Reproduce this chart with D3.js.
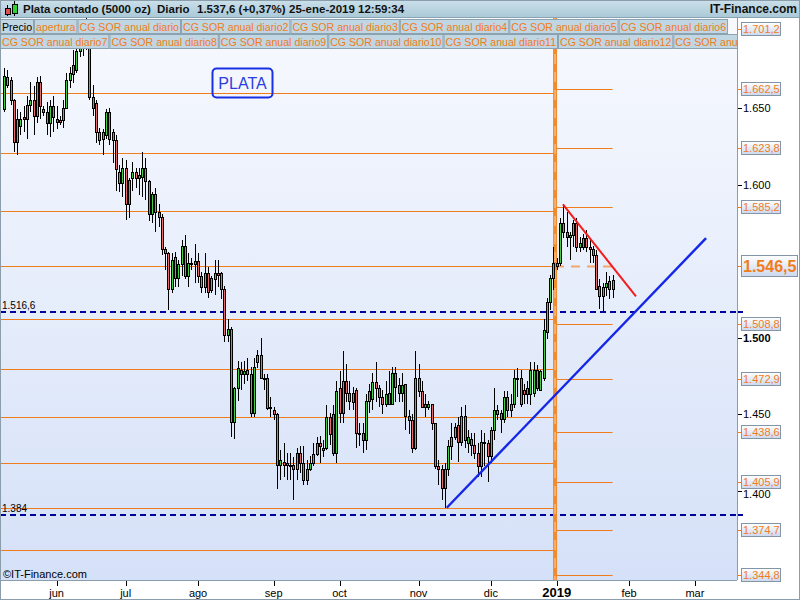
<!DOCTYPE html>
<html>
<head>
<meta charset="utf-8">
<script src="https://cdn.jsdelivr.net/npm/d3@7"></script>
<style>
  body { margin: 0; background: #fff; }
  svg { display: block; font-family: "Liberation Sans", Arial, sans-serif; }
</style>
</head>
<body>
<svg id="chart" width="800" height="600"></svg>
<script>
'use strict';

// daily candles, silver spot (5000 oz), from mid-May 2018 to 25-ene-2019
var opens = [1649,1665,1668,1655,1628,1638,1644,1643,1652,1655,
  1645,1667,1649,1647,1640,1651,1643,1642,1642,1650,
  1668,1672,1675,1687,1696,1691,1701,1657,1653,1634,
  1630,1632,1647,1634,1629,1608,1601,1611,1587,1604,
  1608,1606,1605,1611,1602,1581,1594,1582,1579,1558,
  1555,1532,1553,1539,1548,1560,1540,1549,1548,1550,
  1540,1533,1542,1531,1538,1542,1542,1532,1502,1506,
  1445,1467,1479,1476,1479,1476,1451,1484,1489,1474,
  1474,1455,1453,1450,1417,1419,1418,1417,1417,1414,
  1425,1418,1407,1414,1418,1424,1431,1428,1428,1448,
  1450,1425,1467,1451,1472,1464,1458,1466,1437,1438,
  1433,1459,1460,1471,1467,1461,1457,1457,1457,1477,
  1469,1464,1470,1449,1446,1428,1474,1465,1457,1455,
  1457,1444,1416,1414,1402,1414,1429,1435,1443,1432,
  1449,1431,1434,1430,1425,1416,1432,1431,1423,1440,
  1450,1451,1447,1461,1453,1457,1474,1474,1466,1467,
  1463,1464,1479,1466,1474,1504,1523,1539,1547,1549,
  1575,1569,1566,1567,1575,1559,1559,1565,1559,1558,
  1554,1534,1527,1533,1537,1532];
var highs = [1676,1675,1670,1656,1649,1647,1651,1658,1667,1664,
  1670,1671,1651,1654,1655,1658,1651,1645,1655,1673,
  1677,1688,1691,1698,1702,1717,1707,1665,1655,1637,
  1636,1649,1650,1636,1632,1613,1617,1616,1604,1615,
  1611,1611,1621,1617,1603,1595,1598,1587,1581,1559,
  1556,1555,1556,1551,1564,1567,1555,1552,1561,1555,
  1543,1555,1546,1540,1551,1551,1543,1534,1512,1507,
  1468,1485,1484,1485,1487,1481,1487,1492,1500,1476,
  1476,1461,1455,1451,1427,1431,1425,1425,1422,1428,
  1429,1429,1420,1423,1431,1435,1436,1433,1456,1451,
  1456,1472,1478,1491,1483,1472,1468,1467,1444,1444,
  1463,1470,1477,1484,1469,1466,1472,1478,1481,1481,
  1474,1477,1470,1453,1450,1491,1483,1472,1463,1459,
  1457,1444,1420,1417,1418,1433,1444,1444,1448,1455,
  1456,1440,1438,1438,1431,1440,1438,1433,1442,1467,
  1456,1453,1465,1465,1463,1479,1480,1479,1470,1472,
  1484,1484,1482,1479,1512,1526,1541,1559,1552,1578,
  1587,1582,1569,1577,1578,1566,1568,1570,1564,1560,
  1557,1538,1536,1543,1540,1541];
var lows = [1647,1663,1652,1621,1619,1632,1634,1630,1647,1632,
  1640,1643,1645,1632,1631,1634,1636,1639,1637,1649,
  1663,1666,1673,1683,1684,1688,1655,1645,1627,1626,
  1619,1630,1626,1614,1596,1595,1592,1577,1578,1596,
  1598,1593,1592,1590,1576,1575,1569,1572,1554,1544,
  1518,1529,1533,1533,1540,1538,1533,1544,1536,1536,
  1529,1529,1526,1529,1528,1533,1525,1497,1497,1435,
  1434,1459,1466,1470,1472,1448,1448,1480,1474,1466,
  1453,1448,1446,1401,1407,1409,1407,1407,1394,1407,
  1412,1404,1404,1413,1416,1423,1418,1422,1427,1430,
  1423,1418,1444,1444,1458,1453,1453,1428,1429,1425,
  1427,1451,1453,1458,1455,1450,1455,1456,1456,1458,
  1458,1458,1440,1437,1425,1427,1461,1454,1448,1453,
  1440,1414,1404,1394,1389,1410,1420,1433,1419,1429,
  1428,1425,1423,1421,1409,1409,1416,1406,1418,1433,
  1446,1438,1444,1448,1448,1454,1461,1455,1457,1457,
  1456,1461,1465,1465,1472,1499,1518,1531,1544,1547,
  1565,1559,1551,1559,1556,1556,1557,1556,1549,1549,
  1531,1519,1517,1527,1525,1526];
var closes = [1671,1670,1655,1628,1643,1643,1643,1652,1655,1645,
  1667,1651,1647,1640,1651,1644,1641,1641,1650,1668,
  1673,1678,1687,1693,1689,1704,1657,1650,1634,1629,
  1634,1647,1630,1629,1610,1601,1611,1587,1603,1608,
  1604,1604,1611,1602,1581,1594,1582,1579,1558,1555,
  1532,1551,1539,1548,1560,1540,1549,1548,1550,1540,
  1533,1542,1530,1539,1542,1541,1532,1502,1506,1445,
  1467,1480,1476,1478,1476,1451,1481,1489,1474,1473,
  1454,1454,1450,1417,1420,1417,1417,1416,1414,1425,
  1418,1407,1414,1418,1424,1431,1429,1427,1448,1437,
  1425,1465,1451,1472,1464,1459,1464,1438,1438,1433,
  1459,1465,1471,1467,1461,1457,1463,1464,1477,1468,
  1464,1469,1449,1446,1428,1474,1465,1455,1455,1457,
  1444,1416,1414,1402,1414,1429,1435,1442,1432,1449,
  1433,1435,1430,1425,1416,1432,1431,1423,1440,1453,
  1453,1447,1461,1453,1457,1474,1473,1457,1463,1463,
  1479,1479,1467,1478,1505,1523,1539,1549,1549,1575,
  1569,1566,1567,1575,1559,1562,1565,1559,1558,1554,
  1532,1527,1533,1536,1532,1537.6];

// month ticks (bar index of first session of each month)
var monthLabels = ['jun', 'jul', 'ago', 'sep', 'oct', 'nov', 'dic', '2019', 'feb', 'mar'];
var monthIndex = [16, 37, 59, 82, 102, 126, 148, 168, 190, 210];

// annual support / resistance levels
var levels2018 = [1698.0, 1659.9, 1620.3, 1582.5, 1546.8, 1512.2, 1479.4, 1448.0, 1418.0, 1388.6, 1361.4];
var levels2019 = [1701.2, 1662.5, 1623.8, 1585.2, 1546.5, 1508.8, 1472.9, 1438.6, 1405.9, 1374.7, 1344.8];
var openLevel = 1546.5;
var yearStart = 167.5;

var dashedLevels = [1516.6, 1384.0];
var dashedLabels = ['1.516,6', '1.384'];
var priceTicks = [1650, 1600, 1500, 1450, 1400];

// trend lines [bar index, price]
var blueTrend = [[134.6, 1389], [213.4, 1565]];
var redTrend = [[169.9, 1587], [192.1, 1527]];

var legendRow1 = ['Precio', 'apertura', 'CG SOR anual diario', 'CG SOR anual diario2', 'CG SOR anual diario3',
  'CG SOR anual diario4', 'CG SOR anual diario5', 'CG SOR anual diario6'];
var legendRow2 = ['CG SOR anual diario7', 'CG SOR anual diario8', 'CG SOR anual diario9', 'CG SOR anual diario10',
  'CG SOR anual diario11', 'CG SOR anual diario12', 'CG SOR anual diario13'];

var es = d3.formatLocale({decimal: ',', thousands: '.', grouping: [3], currency: ['', '']});
var fmtLevel = es.format(',.1f');
var fmtTick = es.format(',d');

var svg = d3.select('#chart');
var plot = {left: 0, top: 18, right: 737, bottom: 580};
var orange = '#f07c1c';

var x = d3.scaleLinear().domain([-1.2, 222.8]).range([plot.left, plot.right]);
var y = d3.scaleLinear().domain([1400, 1650]).range([490.9, 107.9]);

var defs = svg.append('defs');
var bg = defs.append('linearGradient').attr('id', 'bg').attr('x1', 0).attr('y1', 0).attr('x2', 0).attr('y2', 1);
bg.append('stop').attr('offset', '0%').attr('stop-color', '#f7f9fe');
bg.append('stop').attr('offset', '100%').attr('stop-color', '#d5e1f8');
var head = defs.append('linearGradient').attr('id', 'head').attr('x1', 0).attr('y1', 0).attr('x2', 0).attr('y2', 1);
head.append('stop').attr('offset', '0%').attr('stop-color', '#cbe0ea');
head.append('stop').attr('offset', '100%').attr('stop-color', '#a9c8d7');
var lab = defs.append('linearGradient').attr('id', 'lab').attr('x1', 0).attr('y1', 0).attr('x2', 0).attr('y2', 1);
lab.append('stop').attr('offset', '0%').attr('stop-color', '#ffffff');
lab.append('stop').attr('offset', '100%').attr('stop-color', '#cbd8ee');
defs.append('clipPath').attr('id', 'clip').append('rect')
  .attr('x', plot.left).attr('y', plot.top)
  .attr('width', plot.right - plot.left).attr('height', plot.bottom - plot.top);
defs.append('clipPath').attr('id', 'legclip').append('rect')
  .attr('x', 0).attr('y', 0).attr('width', plot.right).attr('height', 60);

svg.append('rect').attr('width', 800).attr('height', 600).attr('fill', '#fff');
svg.append('rect')
  .attr('x', plot.left).attr('y', plot.top)
  .attr('width', plot.right - plot.left).attr('height', plot.bottom - plot.top)
  .attr('fill', 'url(#bg)');

var g = svg.append('g').attr('clip-path', 'url(#clip)');

// 2018 levels (left of the year line)
g.selectAll('line.lv18').data(levels2018).enter().append('line')
  .attr('x1', plot.left).attr('x2', x(yearStart))
  .attr('y1', function (d) { return Math.round(y(d)) + 0.5; })
  .attr('y2', function (d) { return Math.round(y(d)) + 0.5; })
  .attr('stroke', orange).attr('stroke-width', 1);

// 2019 levels
var lastIndex = closes.length - 1;
g.selectAll('line.lv19').data(levels2019.filter(function (d) { return d !== openLevel; })).enter().append('line')
  .attr('x1', x(yearStart)).attr('x2', x(lastIndex))
  .attr('y1', function (d) { return Math.round(y(d)) + 0.5; })
  .attr('y2', function (d) { return Math.round(y(d)) + 0.5; })
  .attr('stroke', orange).attr('stroke-width', 1);
g.append('line')
  .attr('x1', x(yearStart)).attr('x2', x(lastIndex + 1))
  .attr('y1', y(openLevel)).attr('y2', y(openLevel))
  .attr('stroke', '#f4a56a').attr('stroke-width', 2).attr('stroke-dasharray', '9,7');

// navy dashed lines
g.selectAll('line.dash').data(dashedLevels).enter().append('line')
  .attr('x1', plot.left).attr('x2', plot.right)
  .attr('y1', function (d) { return Math.round(y(d)); })
  .attr('y2', function (d) { return Math.round(y(d)); })
  .attr('stroke', '#00009a').attr('stroke-width', 2).attr('stroke-dasharray', '6,4');

g.selectAll('text.dlab').data(dashedLevels).enter().append('text')
  .attr('x', 2).attr('y', function (d) { return y(d) - 3; })
  .attr('font-size', 10).attr('fill', '#000')
  .text(function (d, i) { return dashedLabels[i]; });

// year separator
g.append('line')
  .attr('x1', x(yearStart)).attr('x2', x(yearStart))
  .attr('y1', plot.top).attr('y2', plot.bottom)
  .attr('stroke', '#f28a2e').attr('stroke-width', 4);
g.append('line')
  .attr('x1', x(yearStart)).attr('x2', x(yearStart))
  .attr('y1', plot.top).attr('y2', plot.bottom)
  .attr('stroke', '#f8c59a').attr('stroke-width', 1.2).attr('stroke-dasharray', '10,8');

// candles
var cg = g.append('g').attr('shape-rendering', 'crispEdges');
var idx = d3.range(closes.length);
var candles = cg.selectAll('g.c').data(idx).enter().append('g');
candles.append('rect')
  .attr('x', function (i) { return Math.round(x(i)); })
  .attr('width', 1)
  .attr('y', function (i) { return Math.round(y(highs[i])); })
  .attr('height', function (i) { return Math.max(1, Math.round(y(lows[i])) - Math.round(y(highs[i]))); })
  .attr('fill', '#000');
candles.append('rect')
  .attr('x', function (i) { return Math.round(x(i)) - 1; })
  .attr('width', 3)
  .attr('y', function (i) { return Math.round(y(Math.max(opens[i], closes[i]))); })
  .attr('height', function (i) {
    return Math.max(2, Math.round(y(Math.min(opens[i], closes[i]))) - Math.round(y(Math.max(opens[i], closes[i]))) + 1);
  })
  .attr('fill', '#000');
candles.append('rect')
  .attr('x', function (i) { return Math.round(x(i)); })
  .attr('width', 1)
  .attr('y', function (i) { return Math.round(y(Math.max(opens[i], closes[i]))) + 1; })
  .attr('height', function (i) {
    return Math.max(0, Math.round(y(Math.min(opens[i], closes[i]))) - Math.round(y(Math.max(opens[i], closes[i]))) - 1);
  })
  .attr('fill', function (i) { return closes[i] >= opens[i] ? '#3fcf3f' : '#e86a6a'; });

// trend lines
var tl = d3.line().x(function (d) { return x(d[0]); }).y(function (d) { return y(d[1]); });
g.append('path').attr('d', tl(blueTrend)).attr('fill', 'none').attr('stroke', '#1426e8').attr('stroke-width', 2.4);
g.append('path').attr('d', tl(redTrend)).attr('fill', 'none').attr('stroke', '#f41c1c').attr('stroke-width', 2);

// PLATA note
g.append('rect').attr('x', 212.5).attr('y', 68.5).attr('width', 60).attr('height', 29).attr('rx', 4)
  .attr('fill', 'none').attr('stroke', '#1a30e4').attr('stroke-width', 2);
g.append('text').attr('x', 242.5).attr('y', 89).attr('text-anchor', 'middle')
  .attr('font-size', 16).attr('fill', '#2a3ee0').text('PLATA');

g.append('text').attr('x', 3).attr('y', 578).attr('font-size', 11).attr('fill', '#000').text('\u00a9IT-Finance.com');

// frame of plot
svg.append('line').attr('x1', plot.right + 0.5).attr('x2', plot.right + 0.5).attr('y1', plot.top).attr('y2', plot.bottom)
  .attr('stroke', '#8b9cab');
svg.append('line').attr('x1', 0).attr('x2', plot.right).attr('y1', plot.bottom + 0.5).attr('y2', plot.bottom + 0.5)
  .attr('stroke', '#8b9cab');

// bottom axis
var xa = svg.append('g');
xa.selectAll('line').data(monthIndex).enter().append('line')
  .attr('x1', function (d) { return Math.round(x(d)) + 0.5; })
  .attr('x2', function (d) { return Math.round(x(d)) + 0.5; })
  .attr('y1', plot.bottom + 1).attr('y2', plot.bottom + 6)
  .attr('stroke', '#000');
xa.selectAll('text').data(monthIndex).enter().append('text')
  .attr('x', function (d) { return x(d); })
  .attr('y', 597)
  .attr('text-anchor', 'middle')
  .attr('font-size', function (d, i) { return monthLabels[i] === '2019' ? 13 : 11; })
  .attr('font-weight', function (d, i) { return monthLabels[i] === '2019' ? 'bold' : 'normal'; })
  .attr('fill', '#000')
  .text(function (d, i) { return monthLabels[i]; });

// right axis
var ya = svg.append('g');
ya.selectAll('line.t').data(priceTicks).enter().append('line')
  .attr('x1', plot.right + 1).attr('x2', plot.right + 5)
  .attr('y1', function (d) { return Math.round(y(d)) + 0.5; })
  .attr('y2', function (d) { return Math.round(y(d)) + 0.5; })
  .attr('stroke', '#000');
ya.selectAll('text.t').data(priceTicks).enter().append('text')
  .attr('x', 743).attr('y', function (d) { return y(d) + (d === 1400 ? 7 : 4); })
  .attr('font-size', 11)
  .attr('font-weight', function (d) { return d === 1500 ? 'bold' : 'normal'; })
  .attr('fill', '#000')
  .text(function (d) { return fmtTick(d); });

ya.selectAll('line.n').data(dashedLevels).enter().append('line')
  .attr('x1', plot.right + 1).attr('x2', plot.right + 6)
  .attr('y1', function (d) { return Math.round(y(d)); })
  .attr('y2', function (d) { return Math.round(y(d)); })
  .attr('stroke', '#00009a').attr('stroke-width', 2);

var small = levels2019.filter(function (d) { return d !== openLevel; });
ya.selectAll('line.o').data(levels2019).enter().append('line')
  .attr('x1', plot.right + 1).attr('x2', plot.right + 5)
  .attr('y1', function (d) { return Math.round(y(d)) + 0.5; })
  .attr('y2', function (d) { return Math.round(y(d)) + 0.5; })
  .attr('stroke', orange);
ya.selectAll('rect.o').data(small).enter().append('rect')
  .attr('x', 741.5).attr('width', 39)
  .attr('y', function (d) { return Math.round(y(d)) - 6.5; })
  .attr('height', 13)
  .attr('fill', 'url(#lab)').attr('stroke', '#8496a6');
ya.selectAll('text.o').data(small).enter().append('text')
  .attr('x', 743).attr('y', function (d) { return Math.round(y(d)) + 4; })
  .attr('font-size', 11).attr('fill', orange)
  .text(function (d) { return fmtLevel(d); });

ya.append('rect').attr('x', 741.5).attr('width', 56).attr('y', Math.round(y(openLevel)) - 10.5).attr('height', 21)
  .attr('fill', 'url(#lab)').attr('stroke', '#8496a6');
ya.append('text').attr('x', 743).attr('y', Math.round(y(openLevel)) + 6)
  .attr('font-size', 16).attr('font-weight', 'bold').attr('fill', orange)
  .text(fmtLevel(openLevel));

// header bar
svg.append('rect').attr('x', 0).attr('y', 0).attr('width', 800).attr('height', 18).attr('fill', 'url(#head)');
svg.append('line').attr('x1', 0).attr('x2', 800).attr('y1', 17.5).attr('y2', 17.5).attr('stroke', '#8aa3b2');
var icon = svg.append('g').attr('shape-rendering', 'crispEdges');
icon.append('rect').attr('x', 7).attr('y', 5).attr('width', 1).attr('height', 11).attr('fill', '#000');
icon.append('rect').attr('x', 5).attr('y', 8).attr('width', 5).attr('height', 6).attr('fill', '#e05050').attr('stroke', '#000');
icon.append('rect').attr('x', 14).attr('y', 1).attr('width', 1).attr('height', 15).attr('fill', '#000');
icon.append('rect').attr('x', 12).attr('y', 4).attr('width', 5).attr('height', 9).attr('fill', '#30d030').attr('stroke', '#000');

var titleParts = ['Plata contado (5000 oz)', 'Diario', '1.537,6 (+0,37%)', '25-ene-2019 12:59:34'];
var titleX = [23, 157, 197, 289];
svg.selectAll('text.title').data(titleParts).enter().append('text')
  .attr('x', function (d, i) { return titleX[i]; }).attr('y', 13)
  .attr('font-size', 11.5).attr('font-weight', 'bold').attr('fill', '#111')
  .text(function (d) { return d; });
svg.append('text').attr('x', 797).attr('y', 13).attr('text-anchor', 'end')
  .attr('font-size', 12).attr('font-weight', 'bold').attr('fill', '#111').text('IT-Finance.com');

// legend boxes
function legendRow(items, top) {
  var row = svg.append('g').attr('clip-path', 'url(#legclip)');
  var cx = 0;
  items.forEach(function (name) {
    var t = row.append('text').attr('y', top + 11.5).attr('font-size', 10.6)
      .attr('fill', name === 'Precio' ? '#000' : orange).text(name);
    var w = t.node().getComputedTextLength() + 3;
    row.insert('rect', 'text').attr('x', cx + 0.5).attr('y', top + 0.5).attr('width', w).attr('height', 14)
      .attr('fill', '#c0d6e2').attr('stroke', '#8ba2b0');
    t.attr('x', cx + 2);
    cx += w + 1;
  });
}
legendRow(legendRow1, 19);
legendRow(legendRow2, 34);

// outer frame
svg.append('rect').attr('x', 0.5).attr('y', 0.5).attr('width', 799).attr('height', 599)
  .attr('fill', 'none').attr('stroke', '#8b9cab');
</script>
</body>
</html>
